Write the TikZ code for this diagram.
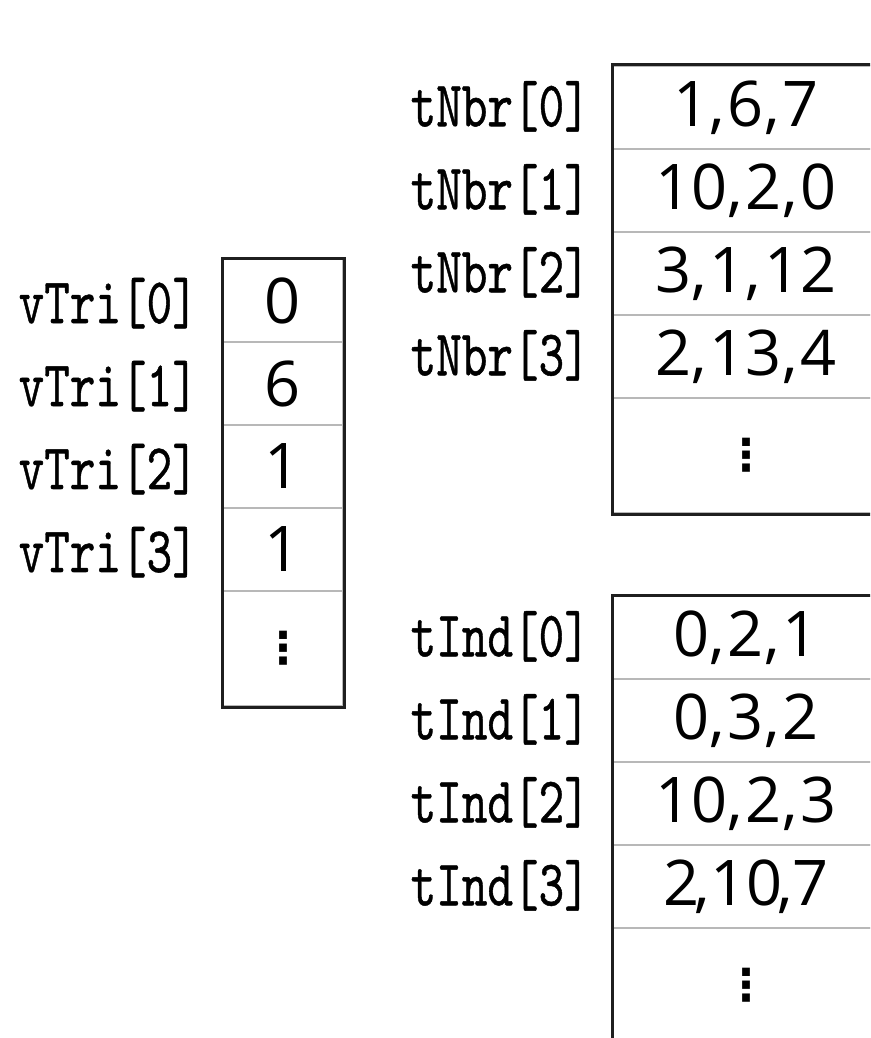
\documentclass[tikz,border=0pt]{standalone}
\usepackage{fontspec}
\newfontfamily\numfont{Open Sans}
\newfontfamily\dotfont{DejaVu Sans}
\newfontfamily\labfont[Extension=.otf, FakeBold=0.8]{lmmono10-regular}
\newcommand{\lbl}[1]{\scalebox{0.75}[1]{\fontsize{65}{70}\selectfont\labfont #1}}
\newcommand{\cm}{,\kern3pt}
\begin{document}
\begin{tikzpicture}[x=1pt,y=-1pt,
  cell/.style={draw=black!28, line width=2pt, inner sep=0pt, anchor=north west,
    font=\fontsize{63}{70}\selectfont\numfont},
  vcell/.style={cell, minimum width=120pt, minimum height=83pt},
  tcell/.style={cell, minimum width=266pt, minimum height=83pt},
  lastrow/.style={minimum height=115pt},
  dots/.style={font=\fontsize{44}{50}\selectfont\dotfont\bfseries},
  frame/.style={draw=black!88, line width=3pt},
  lab/.style={anchor=base east, inner sep=0pt}]
\useasboundingbox (0,0) rectangle (870,1038);
\clip (0,0) rectangle (870,1038);
% vTri
\node[vcell] (v0) at (222,258) {0};
\node[vcell] (v1) at (222,341) {6};
\node[vcell] (v2) at (222,424) {1};
\node[vcell] (v3) at (222,507) {1};
\node[vcell,lastrow,dots] (v4) at (222,590) {⋮};
\draw[frame] (v0.north west) rectangle (v4.south east);
\node[lab] (lv0) at ([xshift=-24pt]v0.base west) {\lbl{vTri[0]}};
\node[lab] (lv1) at ([xshift=-24pt]v1.base west) {\lbl{vTri[1]}};
\node[lab] (lv2) at ([xshift=-24pt]v2.base west) {\lbl{vTri[2]}};
\node[lab] (lv3) at ([xshift=-24pt]v3.base west) {\lbl{vTri[3]}};
% tNbr
\node[tcell] (n0) at (612,65) {1\cm 6\cm 7};
\node[tcell] (n1) at (612,148) {10\cm 2\cm 0};
\node[tcell] (n2) at (612,231) {3\cm 1\cm 12};
\node[tcell] (n3) at (612,314) {2\cm 13\cm 4};
\node[tcell,lastrow,dots] (n4) at (612,397) {⋮};
\draw[frame] (n0.north west) rectangle (n4.south east);
\node[lab] (ln0) at ([xshift=-22pt]n0.base west) {\lbl{tNbr[0]}};
\node[lab] (ln1) at ([xshift=-22pt]n1.base west) {\lbl{tNbr[1]}};
\node[lab] (ln2) at ([xshift=-22pt]n2.base west) {\lbl{tNbr[2]}};
\node[lab] (ln3) at ([xshift=-22pt]n3.base west) {\lbl{tNbr[3]}};
% tInd
\node[tcell] (i0) at (612,595) {0\cm 2\cm 1};
\node[tcell] (i1) at (612,678) {0\cm 3\cm 2};
\node[tcell] (i2) at (612,761) {10\cm 2\cm 3};
\node[tcell] (i3) at (612,844) {2\kern-5pt,10\kern-5pt,7};
\node[tcell,lastrow,dots] (i4) at (612,927) {⋮};
\draw[frame] (i0.north west) rectangle (i4.south east);
\node[lab] (li0) at ([xshift=-22pt]i0.base west) {\lbl{tInd[0]}};
\node[lab] (li1) at ([xshift=-22pt]i1.base west) {\lbl{tInd[1]}};
\node[lab] (li2) at ([xshift=-22pt]i2.base west) {\lbl{tInd[2]}};
\node[lab] (li3) at ([xshift=-22pt]i3.base west) {\lbl{tInd[3]}};
\end{tikzpicture}
\end{document}
